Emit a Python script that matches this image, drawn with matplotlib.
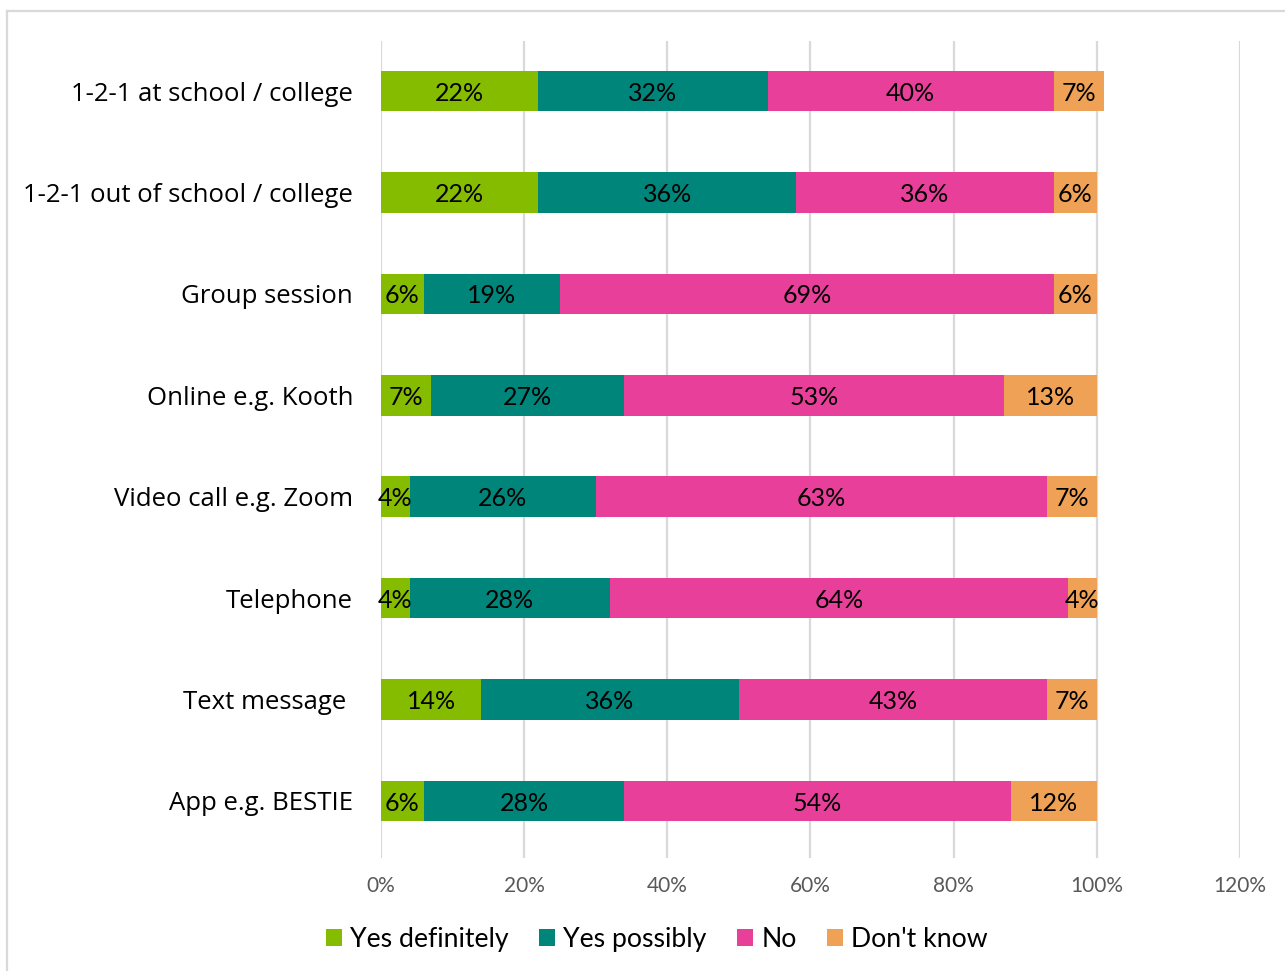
import matplotlib
matplotlib.use("Agg")
import matplotlib.pyplot as plt
from matplotlib.lines import Line2D
import numpy as np

categories = ["1-2-1 at school / college", "1-2-1 out of school / college", "Group session",
              "Online e.g. Kooth", "Video call e.g. Zoom", "Telephone", "Text message ",
              "App e.g. BESTIE"]
series_names = ["Yes definitely", "Yes possibly", "No", "Don't know"]
yes_definitely = [22, 22, 6, 7, 4, 4, 14, 6]
yes_possibly = [32, 36, 19, 27, 26, 28, 36, 28]
no = [40, 36, 69, 53, 63, 64, 43, 54]
dont_know = [7, 6, 6, 13, 7, 4, 7, 12]
colors = ["#85BC00", "#00857A", "#E8409A", "#EFA255"]
xticks = [0, 20, 40, 60, 80, 100, 120]

W, H = 1285, 971
fig = plt.figure(figsize=(W / 100, H / 100), dpi=100)
ax = fig.add_axes([381 / W, 1 - 858 / H, (1240 - 381) / W, (858 - 41) / H])

label_font = ["Open Sans", "DejaVu Sans"]
num_font = ["Lato", "DejaVu Sans"]

y = np.arange(len(categories))
left = np.zeros(len(categories))
data = [yes_definitely, yes_possibly, no, dont_know]
for vals, col, name in zip(data, colors, series_names):
    vals = np.array(vals, dtype=float)
    bars = ax.barh(y, vals, left=left, height=0.4, color=col, label=name, zorder=3)
    for b, v in zip(bars, vals):
        ax.text(b.get_x() + b.get_width() / 2, b.get_y() + b.get_height() / 2 + 0.02,
                f"{int(v)}%", ha="center", va="center", fontsize=18,
                family=num_font, color="black", zorder=4)
    left += vals

ax.set_xlim(0, 120)
ax.set_ylim(7.562, -0.493)
ax.set_xticks(xticks)
ax.set_xticklabels([f"{t}%" for t in xticks], family=num_font, fontsize=15, color="#595959")
ax.set_yticks(y)
ax.set_yticklabels(categories, family=label_font, fontsize=18.5, color="black")
ax.tick_params(axis="both", length=0)
ax.tick_params(axis="y", pad=20)
ax.tick_params(axis="x", pad=13)
for s in ax.spines.values():
    s.set_visible(False)
ax.grid(axis="x", color="#D9D9D9", linewidth=1.6, zorder=0)
ax.set_axisbelow(True)

leg = ax.legend(loc="center", bbox_to_anchor=(657 / W, 1 - 939 / H), bbox_transform=fig.transFigure,
                ncol=4, frameon=False, prop={"family": num_font, "size": 19.2},
                handlelength=0.6, handleheight=0.6, handletextpad=0.3, columnspacing=1.15)

# outer border (left and top)
fig.add_artist(Line2D([7 / W, 7 / W], [0, 1 - 11 / H], transform=fig.transFigure,
                      color="#D9D9D9", linewidth=1.6))
fig.add_artist(Line2D([7 / W, 1], [1 - 11 / H, 1 - 11 / H], transform=fig.transFigure,
                      color="#D9D9D9", linewidth=1.6))

fig.savefig("out.png", dpi=100)
